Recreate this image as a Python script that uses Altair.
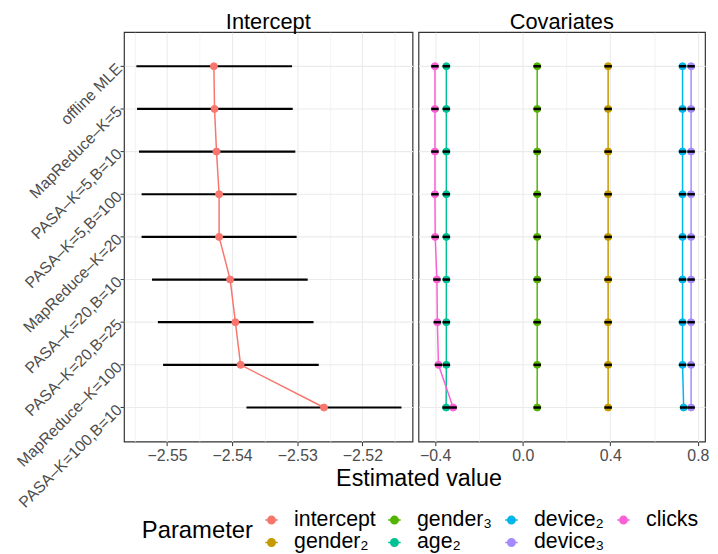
import altair as alt
import pandas as pd

FONT = "Liberation Sans"

# ---------------- data ----------------
methods = [
    "offline MLE", "MapReduce–K=5", "PASA–K=5,B=10", "PASA–K=5,B=100",
    "MapReduce–K=20", "PASA–K=20,B=10", "PASA–K=20,B=25",
    "MapReduce–K=100", "PASA–K=100,B=10",
]

intercept_est = [-2.5428, -2.5427, -2.5424, -2.5420, -2.5420, -2.5403, -2.5395, -2.5387, -2.5259]
intercept_lo = [-2.5547, -2.5546, -2.5543, -2.5539, -2.5539, -2.5523, -2.5514, -2.5506, -2.5378]
intercept_hi = [-2.5308, -2.5307, -2.5303, -2.5301, -2.5301, -2.5284, -2.5275, -2.5267, -2.5140]

cov_names = ["gender₂", "gender₃", "age₂", "device₂", "device₃", "clicks"]
gender2_est = [0.390, 0.390, 0.390, 0.390, 0.390, 0.390, 0.390, 0.390, 0.390]
gender3_est = [0.066, 0.066, 0.066, 0.066, 0.066, 0.066, 0.066, 0.066, 0.066]
age2_est = [-0.349, -0.349, -0.349, -0.349, -0.349, -0.349, -0.349, -0.349, -0.350]
device2_est = [0.730, 0.730, 0.730, 0.730, 0.730, 0.730, 0.730, 0.730, 0.735]
device3_est = [0.769, 0.769, 0.769, 0.769, 0.769, 0.769, 0.769, 0.769, 0.769]
clicks_est = [-0.401, -0.401, -0.401, -0.401, -0.400, -0.392, -0.390, -0.385, -0.318]
cov_halfwidth = [0.017, 0.017, 0.017, 0.017, 0.017, 0.017]

legend_order = ["intercept", "gender₃", "device₂", "clicks", "gender₂", "age₂", "device₃"]
legend_colors = ["#F8766D", "#53B400", "#00B6EB", "#FB61D7", "#C49A00", "#00C094", "#A58AFF"]

# ---------------- tables ----------------
df_int = pd.DataFrame({
    "method": methods, "idx": list(range(len(methods))),
    "param": ["intercept"] * len(methods),
    "est": intercept_est, "lo": intercept_lo, "hi": intercept_hi,
})

cov_series = [gender2_est, gender3_est, age2_est, device2_est, device3_est, clicks_est]
rows = []
for name, series, hw in zip(cov_names, cov_series, cov_halfwidth):
    for i, (m, v) in enumerate(zip(methods, series)):
        rows.append({"method": m, "idx": i, "param": name, "est": v, "lo": v - hw, "hi": v + hw})
df_cov = pd.DataFrame(rows)

# ---------------- shared encodings ----------------
cscale = alt.Scale(domain=legend_order, range=legend_colors)
leg = alt.Legend(
    title="Parameter", orient="none", legendX=18, legendY=481,
    direction="horizontal", columns=4, titleOrient="left", titleAnchor="middle",
    symbolType="M-1,0L1,0M-0.6,0A0.6,0.6,0,1,1,0.6,0A0.6,0.6,0,1,1,-0.6,0Z",
    symbolSize=160, symbolStrokeWidth=1.5, labelOffset=12, columnPadding=8,
    rowPadding=0, titlePadding=7, labelFontSize=21.5, titleFontSize=24,
    labelFont=FONT, titleFont=FONT, labelColor="black", titleColor="black",
    titleFontWeight="normal", labelLimit=200,
)

yscale = alt.Scale(domain=methods, padding=0.6)
grid_major = 1.1

y_left = alt.Y("method:N", scale=yscale, axis=alt.Axis(
    title=None, labelAngle=-45, labelAlign="right", labelBaseline="middle",
    labelPadding=1, tickSize=4, grid=True, gridWidth=grid_major, labelLimit=300))
y_right = alt.Y("method:N", scale=yscale, axis=alt.Axis(
    title=None, labels=False, ticks=False, grid=True, gridWidth=grid_major))

test_l = "abs(datum.value*100 - round(datum.value*100)) < 0.001"
ax_l = alt.Axis(
    values=[-2.555, -2.55, -2.545, -2.54, -2.535, -2.53, -2.525, -2.52, -2.515],
    labelExpr=f"{test_l} ? format(datum.value, '.2f') : ''",
    gridWidth={"condition": {"test": test_l, "value": grid_major}, "value": 0.6},
    tickOpacity={"condition": {"test": test_l, "value": 1}, "value": 0},
    title="Estimated value", titleX=297, titleAlign="center", titlePadding=3,
    labelPadding=2,
)
test_r = "abs(datum.value*2.5 - round(datum.value*2.5)) < 0.001"
ax_r = alt.Axis(
    values=[-0.4, -0.2, 0.0, 0.2, 0.4, 0.6, 0.8],
    labelExpr=f"{test_r} ? format(datum.value, '.1f') : ''",
    gridWidth={"condition": {"test": test_r, "value": grid_major}, "value": 0.6},
    tickOpacity={"condition": {"test": test_r, "value": 1}, "value": 0},
    title=None, labelPadding=2,
)

xs_l = alt.Scale(domain=[-2.5566, -2.5123], nice=False, zero=False)
xs_r = alt.Scale(domain=[-0.4762, 0.8327], nice=False, zero=False)

# ---------------- left panel ----------------
bl = alt.Chart(df_int)
l_err = bl.mark_rule(color="black", strokeWidth=2.2).encode(
    x=alt.X("lo:Q", scale=xs_l, axis=ax_l), x2="hi:Q", y=y_left)
l_line = bl.mark_line(strokeWidth=1.5).encode(
    x=alt.X("est:Q", scale=xs_l, axis=ax_l), y=y_left, order=alt.Order("idx:Q"),
    stroke=alt.Stroke("param:N", scale=cscale, legend=leg))
l_pts = bl.mark_point(shape="circle", size=50, opacity=1, strokeWidth=1).encode(
    x=alt.X("est:Q", scale=xs_l, axis=ax_l), y=y_left,
    stroke=alt.Stroke("param:N", scale=cscale, legend=leg),
    fill=alt.Fill("param:N", scale=cscale, legend=leg))
left = alt.layer(l_err, l_line, l_pts).properties(
    width=291, height=413, title=alt.TitleParams("Intercept"))

# ---------------- right panel ----------------
br = alt.Chart(df_cov)
r_line = br.mark_line(strokeWidth=1.5).encode(
    x=alt.X("est:Q", scale=xs_r, axis=ax_r), y=y_right, order=alt.Order("idx:Q"),
    detail="param:N",
    stroke=alt.Stroke("param:N", scale=cscale, legend=leg))
r_pts = br.mark_point(shape="circle", size=50, opacity=1, strokeWidth=1).encode(
    x=alt.X("est:Q", scale=xs_r, axis=ax_r), y=y_right,
    stroke=alt.Stroke("param:N", scale=cscale, legend=leg),
    fill=alt.Fill("param:N", scale=cscale, legend=leg))
r_err = br.mark_rule(color="black", strokeWidth=2.5).encode(
    x=alt.X("lo:Q", scale=xs_r, axis=ax_r), x2="hi:Q", y=y_right)
right = alt.layer(r_line, r_pts, r_err).properties(
    width=289, height=413, title=alt.TitleParams("Covariates"))

chart = alt.hconcat(left, right, spacing=6, bounds="flush").properties(
    padding={"left": 5, "top": 0, "right": 0, "bottom": 0}
).configure_view(
    stroke="#333333", strokeWidth=1.2
).configure_axis(
    labelFont=FONT, labelFontSize=16, labelColor="#4D4D4D",
    titleFont=FONT, titleFontSize=23.5, titleFontWeight="normal", titleColor="black",
    tickColor="#333333", tickWidth=1, tickSize=4, domain=False,
    gridColor="#EBEBEB",
).configure_title(
    font=FONT, fontSize=22, fontWeight="normal", color="black", offset=-2, anchor="middle"
).configure_legend(
    labelFont=FONT, titleFont=FONT
)

chart.save("out.html", embed_options={"renderer": "svg", "actions": False})
